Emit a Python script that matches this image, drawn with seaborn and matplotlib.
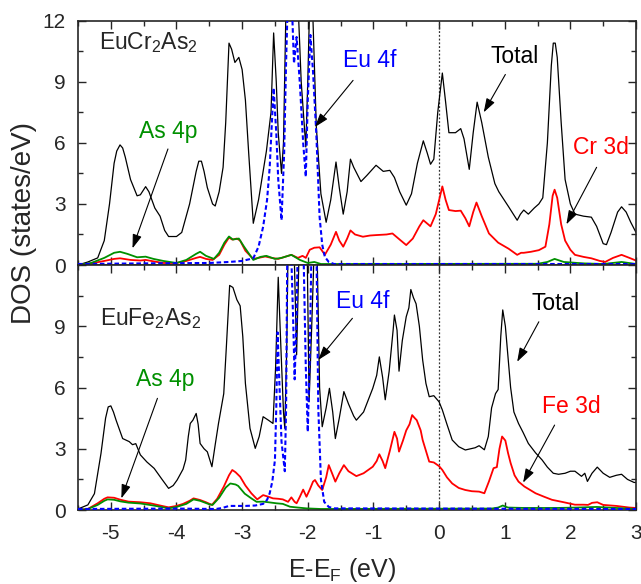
import numpy as np
import pandas as pd
import matplotlib
matplotlib.use("Agg")
import matplotlib.pyplot as plt
from matplotlib.ticker import MultipleLocator
import seaborn as sns

sns.set_style("ticks")
plt.rcParams['font.family'] = ['Liberation Sans', 'DejaVu Sans']
plt.rcParams['axes.unicode_minus'] = False
plt.rcParams['mathtext.fontset'] = 'custom'
plt.rcParams['mathtext.rm'] = 'Liberation Sans'
plt.rcParams['mathtext.it'] = 'Liberation Sans'
plt.rcParams['mathtext.default'] = 'regular'

# ---------------- data: EuCr2As2 (top panel) ----------------
top_total_E = [-5.5, -5.35, -5.2, -5.1, -5.02, -4.95, -4.91, -4.86, -4.82, -4.78, -4.7, -4.6, -4.55, -4.47, -4.42,
               -4.33, -4.25, -4.18, -4.12, -4.0, -3.92, -3.8, -3.7, -3.66, -3.62, -3.58, -3.53, -3.45, -3.41, -3.35,
               -3.29, -3.25, -3.2, -3.16, -3.11, -3.05, -3.0, -2.95, -2.9, -2.83, -2.75, -2.63, -2.56, -2.52,
               -2.48, -2.45, -2.40, -2.37, -2.33, -2.15, -2.1, -2.03, -2.0, -1.97, -1.93, -1.87, -1.8, -1.72,
               -1.65, -1.57, -1.52, -1.46, -1.4, -1.35, -1.3, -1.19, -1.1, -0.96, -0.85, -0.75, -0.68, -0.6,
               -0.5, -0.42, -0.33, -0.24, -0.18, -0.13, -0.08, -0.02, 0.05, 0.1, 0.15, 0.25, 0.33, 0.38, 0.46,
               0.52, 0.58, 0.65, 0.75, 0.85, 0.91, 1.06, 1.19, 1.24, 1.29, 1.36, 1.45, 1.52, 1.58, 1.65, 1.71,
               1.74, 1.77, 1.8, 1.86, 1.92, 2.0, 2.07, 2.2, 2.32, 2.4, 2.5, 2.55, 2.62, 2.72, 2.78, 2.85, 2.92, 3.0]
top_total = [0.0, 0.15, 0.35, 1.2, 3.0, 5.0, 5.6, 5.9, 5.75, 5.3, 4.2, 3.4, 3.45, 3.85, 3.6,
             2.8, 2.4, 1.7, 1.4, 1.4, 1.6, 3.0, 4.6, 5.1, 5.1, 4.6, 3.8, 3.0, 2.9, 3.6,
             4.8, 7.0, 10.9, 10.6, 9.95, 10.2, 9.6, 8.1, 5.5, 2.05, 3.2, 5.6, 7.5, 11.4,
             9.0, 6.5, 4.5, 6.0, 13.0, 13.0, 9.0, 5.8, 9.0, 13.0, 13.0, 6.8, 3.5, 2.1,
             3.2, 5.06, 3.8, 2.5, 3.6, 5.2, 4.8, 4.1, 4.4, 4.9, 4.6, 4.65, 4.3, 3.6,
             2.94, 3.5, 5.0, 6.1, 5.5, 4.95, 5.2, 7.5, 9.43, 8.0, 6.5, 6.5, 6.7, 6.2, 4.7,
             6.5, 8.0, 7.0, 5.3, 4.0, 3.6, 2.86, 2.2, 2.5, 2.7, 2.5, 2.8, 3.0, 3.3, 6.0, 9.8,
             10.9, 10.9, 10.2, 7.0, 4.2, 3.0, 2.5, 2.4, 2.35, 1.9, 1.05, 1.0, 1.6, 2.6, 2.86, 2.6, 2.1, 1.6]

top_cr_E = [-5.5, -5.3, -5.1, -4.95, -4.86, -4.7, -4.55, -4.47, -4.35, -4.2, -4.0, -3.85, -3.7, -3.64,
            -3.55, -3.45, -3.35, -3.27, -3.2, -3.15, -3.08, -3.03, -2.95, -2.83, -2.75, -2.65, -2.55,
            -2.45, -2.35, -2.25, -2.15, -2.08, -2.03, -1.97, -1.9, -1.82, -1.76, -1.74, -1.65, -1.57,
            -1.52, -1.46, -1.4, -1.35, -1.28, -1.16, -1.05, -0.96, -0.8, -0.71, -0.6, -0.5, -0.4, -0.3,
            -0.24, -0.13, -0.05, 0.05, 0.1, 0.15, 0.25, 0.33, 0.4, 0.46, 0.52, 0.57, 0.65, 0.76, 0.9,
            1.06, 1.19, 1.25, 1.29, 1.4, 1.52, 1.62, 1.68, 1.73, 1.76, 1.8, 1.86, 1.92, 2.0, 2.07, 2.2,
            2.32, 2.45, 2.53, 2.65, 2.78, 2.9, 3.0]
top_cr = [0.0, 0.08, 0.2, 0.3, 0.33, 0.25, 0.22, 0.25, 0.18, 0.1, 0.1, 0.2, 0.35, 0.4,
          0.3, 0.25, 0.5, 1.0, 1.35, 1.25, 1.3, 1.2, 0.7, 0.3, 0.35, 0.42, 0.35,
          0.3, 0.4, 0.5, 0.35, 0.45, 0.35, 0.75, 0.85, 0.87, 0.6, 0.5, 1.0, 1.63,
          1.2, 0.9, 1.3, 1.7, 1.5, 1.39, 1.45, 1.47, 1.5, 1.55, 1.25, 0.98, 1.3, 1.9,
          2.2, 1.9, 2.5, 3.86, 3.2, 2.7, 2.65, 2.67, 2.3, 1.9, 2.6, 3.07, 2.4, 1.55, 1.1,
          0.8, 0.5, 0.6, 0.6, 0.65, 0.73, 0.9, 2.0, 3.4, 3.7, 3.3, 2.0, 1.2, 0.75, 0.5, 0.4,
          0.33, 0.2, 0.15, 0.35, 0.5, 0.35, 0.22]

top_as_E = [-5.5, -5.3, -5.1, -4.95, -4.86, -4.75, -4.6, -4.47, -4.35, -4.2, -4.0, -3.85, -3.7, -3.64,
            -3.55, -3.43, -3.35, -3.27, -3.2, -3.14, -3.05, -2.97, -2.83, -2.72, -2.63, -2.5, -2.4,
            -2.25, -2.12, -2.0, -1.9, -1.8, -1.5, 1.5, 1.65, 1.76, 1.9, 2.2, 2.5, 2.78, 3.0]
top_as = [0.0, 0.1, 0.35, 0.6, 0.65, 0.55, 0.38, 0.41, 0.3, 0.2, 0.1, 0.25, 0.55, 0.65,
          0.45, 0.3, 0.6, 1.1, 1.4, 1.25, 1.3, 0.9, 0.25, 0.4, 0.45, 0.3, 0.35,
          0.5, 0.25, 0.1, 0.15, 0.05, 0.05, 0.06, 0.15, 0.3, 0.15, 0.08, 0.05, 0.15, 0.05]

top_eu_E = [-5.5, -4.5, -3.5, -3.2, -3.0, -2.83, -2.75, -2.68, -2.62, -2.58, -2.55, -2.52, -2.48, -2.45,
            -2.40, -2.36, -2.33, -2.30, -2.25, -2.21, -2.17, -2.12, -2.07, -2.03, -2.0, -1.96, -1.92,
            -1.87, -1.82, -1.78, -1.74, -1.68, -1.6, 3.0]
top_eu = [0.05, 0.08, 0.1, 0.15, 0.2, 0.33, 0.9, 1.88, 3.2, 4.8, 6.8, 8.7, 6.5, 4.2,
          2.2, 5.5, 10.0, 13.5, 13.5, 9.9, 11.2, 8.9, 6.0, 4.33, 8.1, 11.3, 9.5,
          6.45, 2.37, 1.0, 0.4, 0.15, 0.05, 0.05]

# ---------------- data: EuFe2As2 (bottom panel) ----------------
bot_total_E = [-5.5, -5.35, -5.25, -5.15, -5.08, -5.04, -5.0, -4.96, -4.92, -4.82, -4.72, -4.67, -4.62, -4.55,
               -4.45, -4.34, -4.22, -4.12, -4.05, -3.99, -3.9, -3.86, -3.82, -3.79, -3.75, -3.70, -3.67,
               -3.64, -3.58, -3.53, -3.46, -3.41, -3.36, -3.28, -3.24, -3.19, -3.14, -3.08, -3.03, -2.99,
               -2.95, -2.88, -2.80, -2.74, -2.68, -2.6, -2.53, -2.49, -2.45, -2.41, -2.37, -2.35, -2.32,
               -2.30, -2.21, -2.17, -2.13, -2.01, -1.98, -1.94, -1.90, -1.86, -1.82, -1.78, -1.72, -1.67,
               -1.62, -1.58, -1.52, -1.45, -1.38, -1.3, -1.26, -1.15, -1.01, -0.95, -0.91, -0.86, -0.82,
               -0.76, -0.70, -0.68, -0.64, -0.61, -0.56, -0.50, -0.46, -0.43, -0.39, -0.35, -0.3, -0.25,
               -0.2, -0.15, -0.08, 0.0, 0.05, 0.12, 0.2, 0.3, 0.40, 0.48, 0.55, 0.61, 0.69, 0.75, 0.80,
               0.86, 0.90, 0.94, 0.97, 1.01, 1.05, 1.09, 1.14, 1.21, 1.28, 1.36, 1.47, 1.57, 1.65, 1.74,
               1.82, 1.92, 2.0, 2.07, 2.17, 2.22, 2.26, 2.33, 2.41, 2.5, 2.6, 2.7, 2.78, 2.87, 2.97, 3.0]
bot_total = [0.05, 0.25, 0.8, 2.77, 4.5, 5.05, 5.1, 4.8, 4.4, 3.5, 3.35, 3.2, 3.25, 2.7,
             2.35, 2.04, 1.5, 1.06, 1.2, 1.47, 2.0, 2.45, 3.6, 4.24, 4.4, 4.73, 4.2,
             3.26, 3.0, 2.85, 2.12, 3.2, 4.24, 5.7, 8.0, 11.0, 10.9, 10.3, 10.0, 8.5,
             6.2, 4.0, 3.02, 3.6, 4.57, 4.4, 4.24, 7.0, 11.4, 8.0, 4.8, 4.0, 8.0,
             13.0, 13.0, 7.6, 13.0, 13.0, 5.3, 9.0, 13.0, 13.0, 6.0, 4.08, 5.0, 5.96,
             4.8, 3.5, 4.5, 5.8, 5.2, 4.6, 4.4, 4.8, 5.96, 6.6, 7.5, 6.5, 5.4,
             6.8, 8.8, 9.55, 8.8, 6.8, 8.3, 9.47, 9.9, 10.8, 10.4, 10.1, 9.0, 7.35,
             6.2, 5.55, 5.6, 5.3, 4.9, 4.2, 3.43, 3.1, 2.94, 3.0, 3.05, 3.15, 2.95, 3.6, 5.0,
             5.7, 5.9, 8.5, 9.8, 9.0, 7.5, 6.0, 4.8, 4.24, 3.8, 3.26, 2.8, 2.45, 2.1, 1.8,
             1.75, 1.8, 1.9, 1.9, 1.65, 1.8, 1.4, 1.8, 2.1, 1.8, 1.6, 1.7, 1.75, 1.5, 1.35, 1.35]

bot_fe_E = [-5.5, -5.35, -5.2, -5.1, -5.05, -4.95, -4.85, -4.73, -4.55, -4.4, -4.25, -4.12, -4.0, -3.9,
            -3.8, -3.74, -3.64, -3.55, -3.46, -3.38, -3.28, -3.2, -3.15, -3.1, -3.03, -2.95, -2.86,
            -2.77, -2.68, -2.6, -2.53, -2.45, -2.38, -2.3, -2.25, -2.2, -2.17, -2.12, -2.07, -2.02,
            -1.97, -1.92, -1.89, -1.84, -1.78, -1.72, -1.68, -1.63, -1.58, -1.52, -1.45, -1.38, -1.26,
            -1.15, -1.01, -0.95, -0.91, -0.86, -0.82, -0.75, -0.68, -0.64, -0.61, -0.55, -0.50, -0.45,
            -0.41, -0.37, -0.34, -0.28, -0.25, -0.2, -0.15, -0.08, 0.0, 0.05, 0.12, 0.2, 0.3, 0.40,
            0.5, 0.61, 0.69, 0.76, 0.83, 0.88, 0.92, 0.96, 1.01, 1.05, 1.09, 1.15, 1.21, 1.3, 1.47,
            1.6, 1.72, 1.9, 2.07, 2.2, 2.27, 2.33, 2.41, 2.5, 2.7, 2.9, 3.0]
bot_fe = [0.0, 0.05, 0.33, 0.55, 0.62, 0.6, 0.5, 0.41, 0.38, 0.33, 0.22, 0.13, 0.2, 0.3,
          0.45, 0.57, 0.49, 0.38, 0.25, 0.55, 1.14, 1.7, 1.96, 1.85, 1.63, 1.2, 0.82,
          0.52, 0.73, 0.65, 0.57, 0.55, 0.52, 0.4, 0.62, 0.4, 0.33, 0.65, 1.0, 0.65,
          1.0, 1.39, 1.47, 1.2, 0.98, 1.6, 2.2, 1.8, 1.39, 1.8, 2.2, 1.9, 1.66,
          1.8, 2.12, 2.4, 2.73, 2.4, 2.05, 2.9, 3.83, 3.5, 2.86, 3.4, 3.9, 4.2,
          4.65, 4.5, 4.4, 3.9, 3.43, 2.9, 2.37, 2.33, 2.15, 1.96, 1.6, 1.3, 1.08, 0.98,
          0.92, 0.9, 0.82, 1.4, 2.05, 2.1, 3.0, 3.6, 3.4, 2.8, 2.3, 1.7, 1.39, 1.15, 0.82,
          0.65, 0.5, 0.38, 0.26, 0.26, 0.25, 0.35, 0.38, 0.25, 0.2, 0.12, 0.1]

bot_as_E = [-5.5, -5.35, -5.2, -5.1, -5.05, -4.95, -4.85, -4.73, -4.55, -4.35, -4.12, -4.0, -3.85, -3.74,
            -3.64, -3.5, -3.45, -3.35, -3.25, -3.18, -3.1, -3.06, -2.96, -2.86, -2.78, -2.68, -2.6,
            -2.48, -2.38, -2.27, -2.15, -2.02, -1.8, 0.8, 0.9, 0.97, 1.05, 1.3, 1.8, 2.1, 2.4, 2.7, 3.0]
bot_as = [0.0, 0.05, 0.25, 0.45, 0.52, 0.5, 0.42, 0.36, 0.32, 0.22, 0.08, 0.15, 0.3, 0.52,
          0.45, 0.28, 0.25, 0.6, 1.1, 1.3, 1.25, 1.18, 0.8, 0.57, 0.4, 0.41, 0.38,
          0.33, 0.3, 0.16, 0.12, 0.08, 0.05, 0.07, 0.12, 0.22, 0.12, 0.1, 0.1, 0.12, 0.15, 0.1, 0.05]

bot_eu_E = [-5.5, -4.0, -3.4, -3.3, -3.2, -2.95, -2.8, -2.68, -2.62, -2.58, -2.54, -2.5, -2.48, -2.46,
            -2.43, -2.40, -2.35, -2.33, -2.31, -2.26, -2.22, -2.20, -2.17, -2.15, -2.07, -2.03, -2.0,
            -1.97, -1.94, -1.87, -1.84, -1.80, -1.75, -1.68, -1.6, 3.0]
bot_eu = [0.05, 0.07, 0.05, 0.1, 0.2, 0.2, 0.22, 0.3, 0.5, 0.82, 1.4, 2.45, 5.0, 8.7,
          6.0, 3.35, 1.9, 5.0, 13.5, 13.5, 9.0, 6.4, 9.5, 13.5, 13.5, 7.0, 3.83,
          7.5, 13.5, 13.5, 5.0, 1.5, 0.4, 0.15, 0.08, 0.05]

x_ticks = [-5, -4, -3, -2, -1, 0, 1, 2, 3]
y_ticks = [0, 3, 6, 9, 12]

C_TOT, C_D, C_P, C_F = 'black', '#FF0000', '#009000', '#0000FF'
FS_ANN = 16.5

fig = plt.figure(figsize=(6.41, 5.84), dpi=100)
ax1 = fig.add_axes([0.1217, 0.5462, 0.8705, 0.4183])
ax2 = fig.add_axes([0.1217, 0.1267, 0.8705, 0.4195])


def draw_curve(ax, E, D, color, lw, ls='-', z=2):
    sns.lineplot(x=np.array(E), y=np.array(D), ax=ax, color=color, linewidth=lw,
                 sort=False, estimator=None, zorder=z)
    ax.lines[-1].set_linestyle(ls)


def style_axes(ax, show_x):
    ax.set_xlim(-5.5, 3)
    ax.set_ylim(0, 12)
    ax.set_xticks(x_ticks)
    ax.set_yticks(y_ticks)
    ax.xaxis.set_minor_locator(MultipleLocator(0.5))
    ax.yaxis.set_minor_locator(MultipleLocator(1.5))
    ax.tick_params(which='both', direction='in', top=True, right=True, width=1.0, labelsize=15)
    ax.tick_params(which='major', length=6)
    ax.tick_params(which='minor', length=3.5)
    ax.tick_params(axis='y', pad=9)
    ax.tick_params(axis='x', pad=10)
    if not show_x:
        ax.set_xticklabels([])
    for s in ax.spines.values():
        s.set_linewidth(1.2)
    ax.axvline(0, color='#333333', lw=0.9, ls=(0, (1.5, 1.5)), zorder=1)
    ax.set_xlabel('')
    ax.set_ylabel('')


def arrow(ax, tail, head):
    ax.annotate('', xy=head, xytext=tail,
                arrowprops=dict(arrowstyle='-|>,head_length=0.6,head_width=0.2',
                                color='black', lw=0.8, mutation_scale=14,
                                shrinkA=0, shrinkB=0))

# top panel
draw_curve(ax1, top_eu_E, top_eu, C_F, 1.5, (0, (2.2, 1.3)), z=3)
draw_curve(ax1, top_total_E, top_total, C_TOT, 0.9)
draw_curve(ax1, top_cr_E, top_cr, C_D, 1.3)
draw_curve(ax1, top_as_E, top_as, C_P, 1.3)
style_axes(ax1, False)
ax1.text(-5.18, 10.6, r'EuCr$_2$As$_2$', fontsize=FS_ANN, ha='left', va='baseline')
ax1.text(-4.12, 6.25, 'As 4p', color=C_P, fontsize=FS_ANN, ha='center', va='baseline')
ax1.text(-1.06, 9.71, 'Eu 4f', color=C_F, fontsize=FS_ANN, ha='center', va='baseline')
ax1.text(1.15, 9.91, 'Total', color='black', fontsize=FS_ANN, ha='center', va='baseline')
ax1.text(2.47, 5.44, 'Cr 3d', color=C_D, fontsize=FS_ANN, ha='center', va='baseline')
arrow(ax1, (-4.13, 5.7), (-4.67, 0.82))
arrow(ax1, (-1.31, 9.07), (-1.89, 6.78))
arrow(ax1, (1.01, 9.36), (0.68, 7.5))
arrow(ax1, (2.4, 4.8), (1.94, 2.0))

# bottom panel
draw_curve(ax2, bot_eu_E, bot_eu, C_F, 1.5, (0, (2.2, 1.3)), z=3)
draw_curve(ax2, bot_total_E, bot_total, C_TOT, 0.9)
draw_curve(ax2, bot_fe_E, bot_fe, C_D, 1.3)
draw_curve(ax2, bot_as_E, bot_as, C_P, 1.3)
style_axes(ax2, True)
ax2.set_yticklabels(['0', '3', '6', '9', ''])
ax2.text(-5.16, 9.06, r'EuFe$_2$As$_2$', fontsize=FS_ANN, ha='left', va='baseline')
ax2.text(-4.17, 6.07, 'As 4p', color=C_P, fontsize=FS_ANN, ha='center', va='baseline')
ax2.text(-1.16, 9.88, 'Eu 4f', color=C_F, fontsize=FS_ANN, ha='center', va='baseline')
ax2.text(1.77, 9.79, 'Total', color='black', fontsize=FS_ANN, ha='center', va='baseline')
ax2.text(2.01, 4.73, 'Fe 3d', color=C_D, fontsize=FS_ANN, ha='center', va='baseline')
arrow(ax2, (-4.29, 5.47), (-4.84, 0.57))
arrow(ax2, (-1.32, 9.39), (-1.84, 7.35))
arrow(ax2, (1.52, 9.22), (1.19, 7.26))
arrow(ax2, (1.76, 4.16), (1.28, 1.34))

fig.text(0.037, 0.618, 'DOS (states/eV)', rotation=90, ha='center', va='center', fontsize=20)
fig.text(0.534, 0.012, r'E-E$_F$ (eV)', ha='center', va='baseline', fontsize=18)

fig.savefig('out.png', dpi=100)
